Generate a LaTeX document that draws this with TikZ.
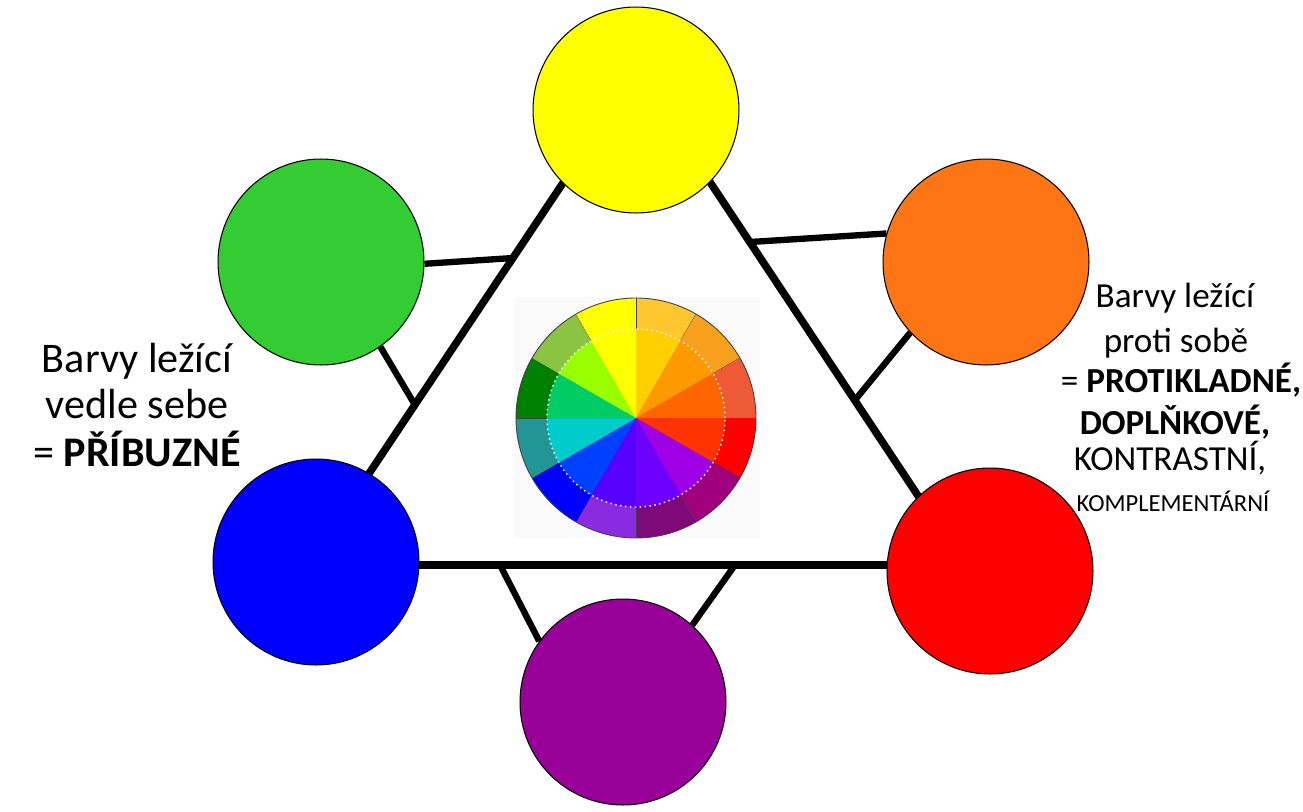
\documentclass[tikz,border=0pt]{standalone}
\usepackage{fontspec}
\setmainfont{Carlito}
\usepackage{tikz}

\definecolor{cyellow}{HTML}{FFFF00}
\definecolor{cgreen}{HTML}{33CC33}
\definecolor{corange}{HTML}{FF7514}
\definecolor{cblue}{HTML}{0000FF}
\definecolor{cred}{HTML}{FF0000}
\definecolor{cpurple}{HTML}{990099}

\definecolor{ringA}{HTML}{FFC62E}
\definecolor{ringB}{HTML}{F8A01E}
\definecolor{ringC}{HTML}{EE5A35}
\definecolor{ringD}{HTML}{FF0000}
\definecolor{ringE}{HTML}{A0007C}
\definecolor{ringF}{HTML}{7E0A7A}
\definecolor{ringG}{HTML}{8A2BE0}
\definecolor{ringH}{HTML}{0000FF}
\definecolor{ringI}{HTML}{229696}
\definecolor{ringJ}{HTML}{008000}
\definecolor{ringK}{HTML}{8BC440}
\definecolor{ringL}{HTML}{FFFF00}

\definecolor{coreA}{HTML}{FFD000}
\definecolor{coreB}{HTML}{FF9900}
\definecolor{coreC}{HTML}{FF6600}
\definecolor{coreD}{HTML}{FF3300}
\definecolor{coreE}{HTML}{A000E6}
\definecolor{coreF}{HTML}{6E00FF}
\definecolor{coreG}{HTML}{5800FF}
\definecolor{coreH}{HTML}{0040FF}
\definecolor{coreI}{HTML}{00CCCC}
\definecolor{coreJ}{HTML}{00CC66}
\definecolor{coreK}{HTML}{99FF00}
\definecolor{coreL}{HTML}{FFFF00}

\tikzset{
	colour/.style={shape=circle,draw=black,line width=0.6pt,minimum size=4.12cm,inner sep=0pt},
	bigtext/.style={anchor=base,font=\fontsize{24}{28}\selectfont},
	sidetext/.style={anchor=base,font=\fontsize{20}{24}\selectfont},
	smalltext/.style={anchor=base,font=\fontsize{14}{17}\selectfont}
}

\begin{document}
\begin{tikzpicture}[x=0.02cm, y=-0.02cm]
	\useasboundingbox (0,0) rectangle (1303,812);
	
	% triangle behind the circles
	\coordinate (t) at (637, 72);
	\coordinate (l) at (308, 565);
	\coordinate (r) at (964, 565);
	\draw[line width=4.3pt] (t) -- (l) -- (r) -- cycle;
	
	\node[colour,fill=cyellow] (yellow) at (636, 110) {};
	\node[colour,fill=cgreen]  (green)  at (321, 262) {};
	\node[colour,fill=corange] (orange) at (986, 262) {};
	
	\node[colour,fill=cblue]   (blue)   at (316, 562) {};
	\node[colour,fill=cred]    (red)    at (990, 571) {};
	\node[colour,fill=cpurple] (purple) at (623, 702) {};
	
	% points on the triangle
	\coordinate (gu) at (513, 258);
	\coordinate (gl) at (415, 405);
	\coordinate (ou) at (750, 242);
	\coordinate (ol) at (855, 400);
	\coordinate (pl) at (500, 565);
	\coordinate (pr) at (735, 565);
	
	\path[-,line width=3.6pt] (green.-1) edge (gu);
	\path[-,line width=3.6pt] (green.-55) edge (gl);
	\path[-,line width=3.6pt] (orange.164) edge (ou);
	\path[-,line width=3.6pt] (orange.-137) edge (ol);
	\path[-,line width=3.6pt] (purple.144) edge (pl);
	\path[-,line width=3.6pt] (purple.48) edge (pr);
	
	% colour wheel
	\fill[black!2] (515, 297) rectangle (760, 538);
	\begin{scope}[shift={(636, 418)}, x=0.02cm, y=0.02cm]
		\foreach \a/\k in {60/A,30/B,0/C,-30/D,-60/E,-90/F,-120/G,-150/H,-180/I,150/J,120/K,90/L} {
			\fill[ring\k] (0,0) -- (\a:120) arc[start angle=\a, end angle=\a+30, radius=120] -- cycle;
			\fill[core\k] (0,0) -- (\a:89) arc[start angle=\a, end angle=\a+30, radius=89] -- cycle;
			\draw[black!75,line width=0.4pt] (\a:89) -- (\a:120);
		}
		\draw[white,dotted,line width=0.8pt] (0,0) circle[radius=89];
		\draw[black!75,line width=0.5pt] (0,0) circle[radius=120];
	\end{scope}
	
	% texts
	\node[bigtext] (l1) at (137, 372) {Barvy ležící};
	\node[bigtext] (l2) at (137, 418) {vedle sebe};
	\node[bigtext] (l3) at (137, 466) {= \textbf{PŘÍBUZNÉ}};
	
	\node[sidetext] (r1) at (1175, 307) {Barvy ležící};
	\node[sidetext] (r2) at (1176, 352) {proti sobě};
	\node[sidetext] (r3) at (1181, 392) {= \textbf{PROTIKLADNÉ,}};
	\node[sidetext] (r4) at (1175, 434) {\textbf{DOPLŇKOVÉ,}};
	\node[sidetext] (r5) at (1170, 470) {KONTRASTNÍ,};
	\node[smalltext] (r6) at (1173, 511) {KOMPLEMENTÁRNÍ};
\end{tikzpicture}
\end{document}
